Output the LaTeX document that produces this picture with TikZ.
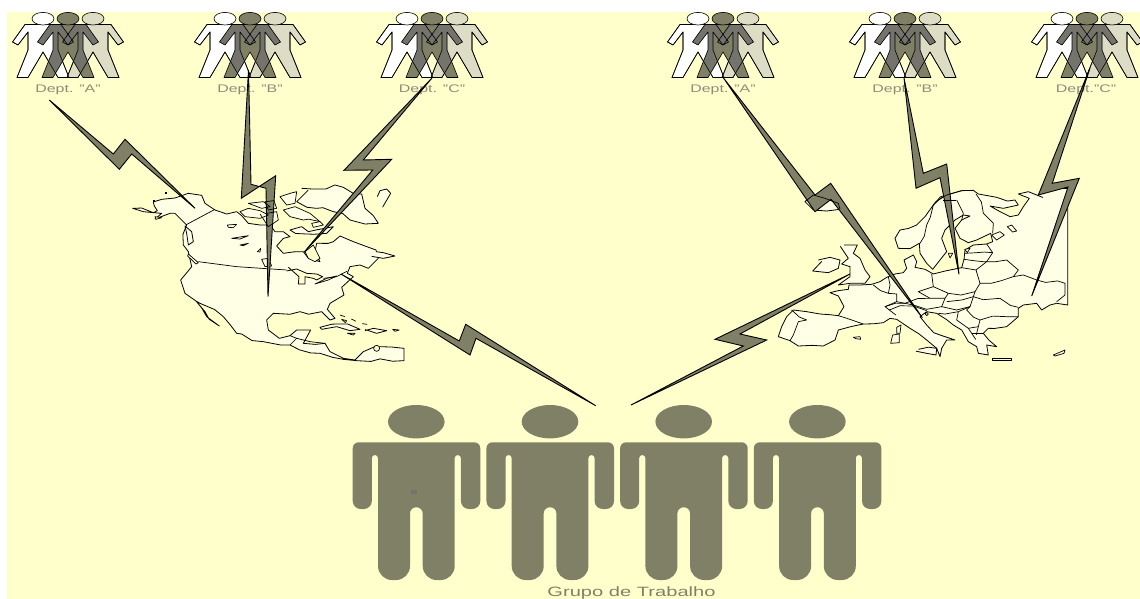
\documentclass[tikz,border=0pt]{standalone}
\usepackage{fontspec}
\setmainfont{Liberation Sans}
\usetikzlibrary{calc,decorations.pathmorphing}
\definecolor{bgy}{HTML}{FFFFCC}
\definecolor{landy}{HTML}{FFFFE6}
\definecolor{oliv}{HTML}{808066}
\definecolor{lightf}{HTML}{DDDDC6}
\definecolor{overl}{HTML}{74746C}
\definecolor{lab}{HTML}{8C8C7A}
\pgfmathsetseed{7}
\tikzset{
  bolt/.style={draw=black,fill=oliv,line width=0.9pt,line join=miter},
  coast/.style={decorate,decoration={random steps,segment length=11pt,amplitude=2.6pt}},
  land/.style={draw=black,fill=landy,line width=0.8pt,line join=round,coast},
  shore/.style={draw=black,line width=0.8pt,line join=round,coast},
  border/.style={draw=black,line width=0.7pt,line join=round,coast},
  isle/.style={draw=black,fill=landy,line width=0.7pt,line join=round},
  deptlabel/.style={text=lab,inner sep=0pt,anchor=base,font=\fontsize{11}{11}\selectfont},
  outl/.style={draw=black,line width=0.6pt,line join=round},
}
\newcommand\figpath{(-18,24.5) -- (-30.5,42) -- (-25,45) -- (-15,32) -- (-15,50) -- (-26,77.5) -- (-15,77.5) -- (0,52) -- (15,77.5) -- (26,77.5) -- (15,50) -- (15,32) -- (25,45) -- (30.5,42) -- (18,24.5) -- cycle}
\newcommand\trio[4]{%
  \begin{scope}[shift={(#1,0)}]
    \draw[outl,fill=white,xshift=-25pt] \figpath;
    \draw[outl,fill=lightf,xshift=25pt] \figpath;
    \fill[oliv] \figpath;
    \begin{scope}
      \clip \figpath;
      \fill[overl,xshift=-25pt] \figpath;
      \fill[overl,xshift=25pt] \figpath;
    \end{scope}
    \draw[outl,xshift=-25pt] \figpath;
    \draw[outl,xshift=25pt] \figpath;
    \draw[outl] \figpath;
    \draw[outl,fill=white] (-25,18.7) ellipse [x radius=11,y radius=6.3];
    \draw[outl,fill=lightf] (25,18.7) ellipse [x radius=11,y radius=6.3];
    \draw[outl,fill=oliv] (0,18.7) ellipse [x radius=11,y radius=6.3];
  \end{scope}
  \node[deptlabel] (#4) at (#2,92.5) {\scalebox{1.45}[1]{#3}};
}
\newcommand\bigman[1]{%
  \begin{scope}[shift={(#1,0)}]
    \fill[oliv] (0,421.7) ellipse [x radius=28.3,y radius=16.7];
    \fill[oliv] (0,442.3) [rounded corners=6pt] -- (64,442.3) [rounded corners=8pt] -- (64,509) -- (44.6,509) [rounded corners=3pt] -- (44.6,455) -- (38.4,455) [rounded corners=14pt] -- (38.4,580) -- (6.4,580) [rounded corners=6pt] -- (6.4,507.3) -- (-6.3,507.3) [rounded corners=14pt] -- (-6.3,580) -- (-38.3,580) [rounded corners=3pt] -- (-38.3,455) -- (-44.5,455) [rounded corners=8pt] -- (-44.5,509) -- (-63.6,509) [rounded corners=6pt] -- (-63.6,442.3) -- cycle;
  \end{scope}
}
\begin{document}
\begin{tikzpicture}[x=1pt,y=-1pt]
\useasboundingbox (0,0) rectangle (1140,599);
\fill[white] (0,0) rectangle (1140,599);
\fill[bgy] (7,12) rectangle (1140,599);

% North America
\begin{scope}[shift={(120,170)},scale=1/3]
  \draw[land] (38,115) -- (70,125) -- (100,128) -- (112,122) -- (103,108) -- (100,96) -- (125,88) -- (165,84) -- (205,70) -- (245,76) -- (255,100) -- (285,120) -- (320,132) -- (350,125) -- (365,137) -- (385,160) -- (420,165) -- (450,165) -- (465,185) -- (490,185) -- (510,200) -- (490,205) -- (470,228) -- (490,250) -- (550,245) -- (565,265) -- (600,275) -- (585,245) -- (590,220) -- (640,215) -- (660,198) -- (700,215) -- (768,240) -- (775,265) -- (745,295) -- (720,285) -- (690,290) -- (682,310) -- (700,320) -- (665,352) -- (672,375) -- (630,400) -- (622,418) -- (645,445) -- (630,450) -- (605,425) -- (540,425) -- (460,430) -- (440,450) -- (445,480) -- (478,505) -- (510,497) -- (530,480) -- (572,480) -- (550,520) -- (615,520) -- (630,545) -- (670,565) -- (705,570) -- (730,545) -- (780,530) -- (852,535) -- (852,572) -- (710,572) -- (670,568) -- (600,550) -- (510,525) -- (430,515) -- (350,490) -- (310,440) -- (240,400) -- (228,393) -- (260,440) -- (298,468) -- (255,425) -- (228,393) -- (195,370) -- (182,330) -- (215,290) -- (205,245) -- (190,225) -- (200,165) -- (165,130) -- (150,130) -- (105,147) -- (125,130) -- (100,128) -- cycle;
  \draw[land] (768,245) -- (790,248) -- (825,258) -- (790,265) -- (772,262) -- cycle;
  \draw[land,fill=bgy] (500,303) -- (530,297) -- (560,310) -- (590,312) -- (608,320) -- (590,330) -- (580,325) -- (555,320) -- (555,342) -- (535,342) -- (537,320) -- (520,305) -- cycle;
  \draw[isle,fill=bgy] (585,342) -- (620,325) -- (650,318) -- (625,330) -- cycle;
  \draw[draw=black,line width=0.7pt] (285,118) -- (197,165);
  \draw[draw=black,line width=0.7pt] (235,275) -- (350,290) -- (500,300);
  \draw[border] (610,325) -- (660,310) -- (680,320);
  \draw[border] (510,525) -- (530,505) -- (570,515) -- (615,520);
  \draw[border] (510,497) -- (530,505);
  \draw[isle] (205,252) -- (235,278) -- (228,282) -- (203,258) -- cycle;
  \draw[land] (195,168) -- (215,185) -- (220,215) -- (205,225) -- (200,190) -- cycle;
  \draw[isle] (105,140) -- (125,143) -- (108,148) -- cycle;
  \fill (135,65) rectangle (141,73);
  \fill (100,90) rectangle (106,95);
  \draw[land] (600,472) -- (650,462) -- (720,478) -- (690,482) -- (650,470) -- (605,478) -- cycle;
  \draw[land] (735,482) -- (760,475) -- (800,482) -- (770,490) -- (755,485) -- cycle;
  \draw[isle] (682,490) -- (705,490) -- (700,495) -- cycle;
  \draw[isle] (818,478) -- (838,480) -- (825,484) -- cycle;
  \draw[draw=black,line width=0.7pt,dash pattern=on 5pt off 7pt] (660,435) -- (690,445) -- (720,460) -- (755,465);
  \draw[isle] (665,448) -- (680,452) -- (676,458) -- cycle;
  \draw[isle,fill=bgy] (770,535) circle (9);
  \draw[land] (510,180) -- (545,170) -- (565,185) -- (640,170) -- (620,190) -- (560,192) -- cycle;
  \draw[isle] (575,160) -- (600,155) -- (610,165) -- (580,172) -- cycle;
  % lakes
  \draw[isle] (322,165) -- (350,163) -- (340,173) -- (325,172) -- cycle;
  \draw[isle] (335,205) -- (385,197) -- (360,207) -- cycle;
  \draw[isle] (360,225) -- (385,220) -- (370,227) -- cycle;
  \draw[isle] (412,245) -- (422,235) -- (420,246) -- cycle;
  \draw[isle] (425,268) -- (445,265) -- (455,288) -- (435,290) -- cycle;
  \draw[isle,fill=bgy] (555,245) -- (580,225) -- (600,265) -- (585,275) -- (565,265) -- cycle;
  \draw[land] (545,55) -- (670,52) -- (725,72) -- (735,115) -- (775,160) -- (735,162) -- (690,150) -- (640,125) -- (590,115) -- (530,95) -- (550,75) -- cycle;
  \draw[land] (772,80) -- (780,62) -- (800,57) -- (812,70) -- (805,82) -- (785,85) -- cycle;
  % arctic islands: ground colour
  \fill[landy] (360,125) -- (385,115) -- (420,122) -- (445,135) -- (420,145) -- (375,140) -- cycle;
  \fill[landy] (385,100) -- (430,95) -- (450,110) -- (425,115) -- cycle;
  \fill[landy] (435,95) -- (462,92) -- (470,115) -- (445,120) -- cycle;
  \fill[landy] (440,130) -- (470,125) -- (475,150) -- (445,170) -- (432,150) -- cycle;
  \fill[landy] (480,80) -- (530,65) -- (525,100) -- (500,105) -- cycle;
  \fill[landy] (490,120) -- (525,110) -- (570,130) -- (600,155) -- (550,150) -- (510,140) -- cycle;
\end{scope}

% Europe
\begin{scope}[shift={(770,170)},scale=1/3]
  % ground of the whole continent
  \fill[landy] (70,420) -- (110,425) -- (150,432) -- (205,437) -- (222,410) -- (205,378) -- (180,368) -- (205,362) -- (235,358) -- (237,345) -- (270,345) -- (305,343) -- (330,335) -- (350,322) -- (375,312) -- (400,308) -- (410,295) -- (402,270) -- (430,255) -- (440,275) -- (435,292) -- (465,298) -- (490,312) -- (530,302) -- (575,293) -- (582,268) -- (585,240) -- (610,225) -- (650,222) -- (668,215) -- (662,190) -- (620,210) -- (595,218) -- (570,205) -- (555,175) -- (575,150) -- (600,138) -- (580,135) -- (555,150) -- (525,180) -- (515,205) -- (530,245) -- (510,270) -- (488,298) -- (470,280) -- (450,250) -- (448,220) -- (420,236) -- (385,235) -- (375,205) -- (390,180) -- (440,165) -- (465,140) -- (490,105) -- (530,75) -- (575,62) -- (625,72) -- (680,82) -- (735,90) -- (745,105) -- (700,115) -- (660,108) -- (690,125) -- (720,140) -- (745,135) -- (760,110) -- (778,85) -- (745,72) -- (775,65) -- (800,75) -- (810,58) -- (893,55) -- (893,405) -- (860,400) -- (840,405) -- (815,420) -- (800,400) -- (760,405) -- (745,415) -- (745,440) -- (710,470) -- (655,475) -- (640,490) -- (680,530) -- (650,525) -- (655,555) -- (625,550) -- (620,530) -- (595,515) -- (575,480) -- (550,465) -- (500,430) -- (470,425) -- (450,440) -- (470,465) -- (510,495) -- (555,510) -- (530,510) -- (515,535) -- (510,560) -- (500,535) -- (470,510) -- (420,475) -- (380,448) -- (360,445) -- (340,458) -- (280,462) -- (205,480) -- (195,510) -- (160,528) -- (85,528) -- (60,512) -- (25,500) -- (35,470) -- (50,440) -- cycle;
  % coasts
  \draw[shore] (70,420) -- (110,425) -- (150,432) -- (205,437) -- (222,410) -- (205,378) -- (180,368) -- (205,362) -- (235,358) -- (237,345) -- (270,345) -- (305,343) -- (330,335) -- (350,322) -- (375,312) -- (400,308) -- (410,295) -- (402,270) -- (430,255) -- (440,275) -- (435,292) -- (465,298) -- (490,312) -- (530,302) -- (575,293) -- (582,268) -- (585,240) -- (610,225) -- (650,222) -- (668,215) -- (662,190) -- (620,210) -- (595,218) -- (570,205) -- (555,175) -- (575,150) -- (600,138) -- (580,135) -- (555,150) -- (525,180) -- (515,205) -- (530,245) -- (510,270) -- (488,298) -- (470,280) -- (450,250) -- (448,220) -- (420,236) -- (385,235) -- (375,205) -- (390,180) -- (440,165) -- (465,140) -- (490,105) -- (530,75) -- (575,62) -- (625,72) -- (680,82) -- (735,90) -- (745,105) -- (700,115) -- (660,108) -- (690,125) -- (720,140) -- (745,135) -- (760,110) -- (778,85) -- (745,72) -- (775,65) -- (800,75) -- (810,58);
  \draw[draw=black,line width=0.8pt,line join=miter] (810,58) -- (893,55) -- (893,405) -- (860,400);
  \draw[shore] (860,400) -- (840,405) -- (815,420) -- (800,400) -- (760,405) -- (745,415) -- (745,440) -- (710,470) -- (655,475) -- (640,490) -- (680,530) -- (650,525) -- (655,555) -- (625,550) -- (620,530) -- (595,515) -- (575,480) -- (550,465) -- (500,430) -- (470,425) -- (450,440) -- (470,465) -- (510,495) -- (555,510) -- (530,510) -- (515,535) -- (510,560) -- (500,535) -- (470,510) -- (420,475) -- (380,448) -- (360,445) -- (340,458) -- (280,462) -- (205,480) -- (195,510) -- (160,528) -- (85,528) -- (60,512) -- (25,500) -- (35,470) -- (50,440) -- (70,420);
  % borders
  \draw[border] (65,420) -- (110,450) -- (85,455) -- (70,495) -- (60,512);
  \draw[border] (205,437) -- (280,462);
  \draw[border] (310,345) -- (355,370) -- (380,372) -- (380,395) -- (345,410) -- (358,420) -- (362,445);
  \draw[border] (355,320) -- (360,345) -- (355,370);
  \draw[border] (485,312) -- (490,350) -- (445,365) -- (480,385) -- (405,400) -- (380,395);
  \draw[border] (490,350) -- (535,370) -- (525,385) -- (480,385);
  \draw[border] (535,370) -- (615,365) -- (630,340) -- (618,300) -- (575,293);
  \draw[border] (525,385) -- (515,410) -- (470,418) -- (430,405) -- (405,400);
  \draw[border] (345,410) -- (405,400);
  \draw[border] (358,420) -- (430,408) -- (470,422);
  \draw[border] (615,365) -- (610,380) -- (530,395);
  \draw[border] (515,410) -- (560,420) -- (600,410) -- (610,380);
  \draw[border] (630,340) -- (730,320) -- (760,315) -- (800,330) -- (885,340) -- (885,375) -- (860,395);
  \draw[border] (610,380) -- (690,385) -- (745,412);
  \draw[border] (618,300) -- (650,275) -- (710,270) -- (745,300) -- (730,320);
  \draw[border] (582,268) -- (640,275) -- (650,275) -- (668,248) -- (650,222);
  \draw[border] (584,250) -- (668,248);
  \draw[border] (600,410) -- (590,420) -- (630,450) -- (710,440) -- (745,440);
  \draw[border] (630,450) -- (625,470) -- (650,475);
  \draw[border] (625,470) -- (595,475) -- (560,450) -- (565,425) -- (505,430);
  \draw[border] (565,425) -- (600,410);
  \draw[border] (595,475) -- (605,490) -- (595,510);
  \draw[border] (605,490) -- (640,490);
  \draw[border] (530,75) -- (490,105) -- (470,165) -- (450,220);
  \draw[border] (618,72) -- (640,130) -- (670,160) -- (668,190);
  \draw[border] (560,90) -- (580,130) -- (575,150);
  % islands and lakes
  \draw[land] (222,225) -- (262,225) -- (250,250) -- (270,265) -- (285,300) -- (300,320) -- (285,340) -- (240,340) -- (205,345) -- (240,320) -- (240,290) -- (215,282) -- (235,265) -- (225,250) -- cycle;
  \draw[land] (145,270) -- (180,262) -- (210,270) -- (205,295) -- (175,308) -- (128,303) -- (145,285) -- cycle;
  \draw[isle] (380,472) -- (393,465) -- (390,490) -- (380,490) -- cycle;
  \draw[isle] (368,495) -- (388,492) -- (388,518) -- (362,520) -- cycle;
  \draw[land] (445,538) -- (500,535) -- (498,555) -- (470,550) -- (445,545) -- cycle;
  \draw[isle] (668,566) -- (725,566) -- (725,572) -- (668,572) -- cycle;
  \draw[isle] (850,555) -- (885,540) -- (882,550) -- (855,558) -- cycle;
  \draw[isle] (250,502) -- (270,500) -- (272,508) -- (258,506) -- cycle;
  \draw[isle] (535,250) -- (548,250) -- (540,264) -- cycle;
  \draw[isle] (584,238) -- (600,235) -- (592,248) -- cycle;
  \draw[isle] (665,195) -- (690,185) -- (703,195) -- (680,210) -- cycle;
  \draw[isle] (712,170) -- (725,165) -- (740,183) -- (728,186) -- cycle;
  \draw[isle] (470,432) circle (5);
  \draw[land] (105,95) -- (130,75) -- (165,85) -- (205,100) -- (210,118) -- (170,123) -- (130,120) -- cycle;
\end{scope}

% departments
\trio{68}{68}{Dept. "A"}{deptAw}
\trio{250}{250}{Dept. "B"}{deptBw}
\trio{432}{432}{Dept. "C"}{deptCw}
\trio{723}{723}{Dept. "A"}{deptAe}
\trio{905}{905}{Dept. "B"}{deptBe}
\trio{1087}{1086}{Dept."C"}{deptCe}

% bolts
\draw[bolt] (49.3,100) -- (113.3,154) -- (125,139.3) -- (195,208.3) -- (131.7,154) -- (119.3,169.3) -- cycle;
\draw[bolt] (248.5,70) -- (251,184.3) -- (266,188.3) -- (268,296.7) -- (275.7,175.7) -- (241.3,198.3) -- cycle;
\draw[bolt] (432,78) -- (363.3,160) -- (391.7,159.3) -- (304,252.3) -- (372.7,170) -- (344,170.3) -- cycle;
\draw[bolt] (341,274) -- (459.3,341) -- (465.7,324.3) -- (595.7,405.7) -- (476,338.3) -- (470,355) -- cycle;
\draw[bolt] (631,405) -- (743.3,346) -- (715,339.3) -- (850,274) -- (740,334) -- (766.7,340) -- cycle;
\draw[bolt] (723.5,78) -- (815,195) -- (830.7,183.3) -- (922.3,317.7) -- (831,199.3) -- (815,211.7) -- cycle;
\draw[bolt] (904,78) -- (923.3,173.3) -- (946.7,164) -- (959,274.3) -- (940,177.7) -- (916,188.3) -- cycle;
\draw[bolt] (1090,68) -- (1052.3,183.3) -- (1079.3,178.3) -- (1031.7,296) -- (1068,187) -- (1038.3,195) -- cycle;

% arctic archipelago over the bolt
\begin{scope}[shift={(120,170)},scale=1/3]
  \draw[border] (360,125) -- (385,115) -- (420,122) -- (445,135) -- (420,145) -- (375,140) -- cycle;
  \draw[border] (385,100) -- (430,95) -- (450,110) -- (425,115) -- cycle;
  \draw[border] (435,95) -- (462,92) -- (470,115) -- (445,120) -- cycle;
  \draw[border] (440,130) -- (470,125) -- (475,150) -- (445,170) -- (432,150) -- cycle;
  \draw[border] (480,80) -- (530,65) -- (525,100) -- (500,105) -- cycle;
  \draw[border] (490,120) -- (525,110) -- (570,130) -- (600,155) -- (550,150) -- (510,140) -- cycle;
\end{scope}
\begin{scope}[shift={(770,170)},scale=1/3]
  \draw[border] (105,95) -- (130,75) -- (165,85) -- (205,100) -- (210,118);
  \draw[border] (490,105) -- (530,75) -- (575,62);
  \draw[border] (520,90) -- (545,90) -- (555,100);
\end{scope}
% work group
\bigman{416.3}
\bigman{550}
\bigman{683.7}
\bigman{817.4}
\fill[overl] (411,490) rectangle (417,494);
\node[text=oliv,inner sep=0pt,anchor=base,font=\fontsize{13.5}{13.5}\selectfont] (group) at (631.5,596.5) {\scalebox{1.49}[1]{Grupo de Trabalho}};
\end{tikzpicture}
\end{document}
